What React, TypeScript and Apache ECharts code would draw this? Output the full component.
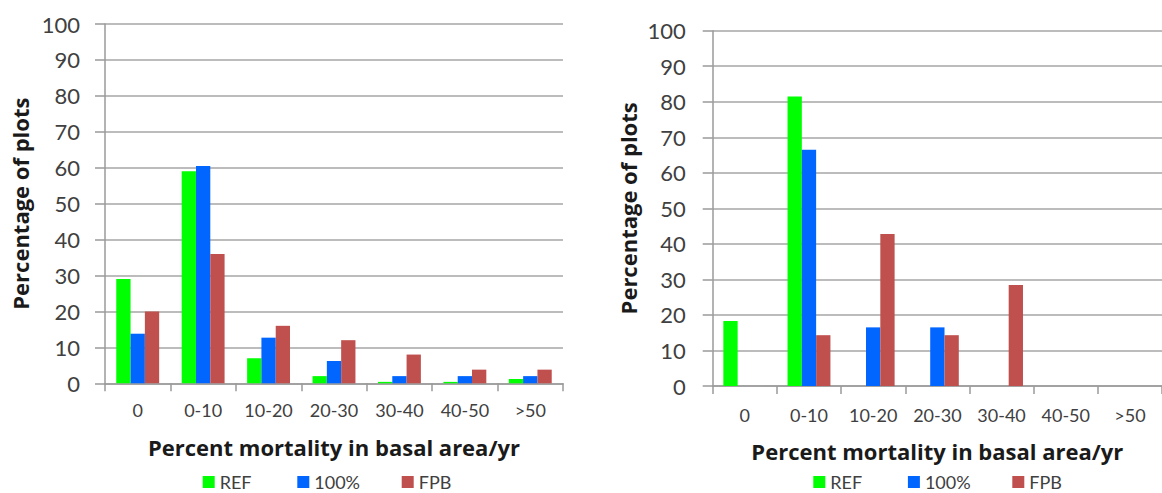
import React, { useEffect, useRef } from "react";
import * as echarts from "echarts";

const categories = ["0", "0-10", "10-20", "20-30", "30-40", "40-50", ">50"];
const seriesNames = ["REF", "100%", "FPB"];
const leftREF = [29, 59, 7, 2, 0.4, 0.4, 1.2];
const left100 = [13.8, 60.5, 12.7, 6.2, 2, 2, 2];
const leftFPB = [20, 36, 16, 12, 8, 3.8, 3.8];
const rightREF = [18.3, 81.5, 0, 0, 0, 0, 0];
const right100 = [0, 66.5, 16.5, 16.5, 0, 0, 0];
const rightFPB = [0, 14.3, 42.8, 14.3, 28.4, 0, 0];
const yTicks = { min: 0, max: 100, interval: 10 };
const xTitle = "Percent mortality in basal area/yr";
const yTitle = "Percentage of plots";
const colors = ["#00ff00", "#0066ff", "#c0504d"];

const FONT = "Lato";
const TITLE_FONT = "Open Sans";

export default function App() {
  const ref = useRef<HTMLDivElement>(null);
  useEffect(() => {
    if (!ref.current) return;
    const chart = echarts.init(ref.current, undefined, { renderer: "svg" });
    const grids = [
      { left: 105, top: 24, width: 458, height: 359.3 },
      { left: 712.7, top: 30.7, width: 460.6, height: 355.3 },
    ];
    const xAxes = grids.map((_, i) => ({
      type: "category",
      gridIndex: i,
      data: categories,
      axisLine: { lineStyle: { color: "#9a9a9a", width: 1.5 } },
      axisTick: { show: true, length: 8, lineStyle: { color: "#9a9a9a", width: 1.5 } },
      axisLabel: { color: "#404040", fontSize: 18, fontFamily: FONT, margin: i === 0 ? 18 : 20 },
      name: xTitle,
      nameLocation: "middle",
      nameGap: i === 0 ? 53 : 54,
      nameTextStyle: { color: "#1a1a1a", fontSize: 22, fontWeight: "bold", fontFamily: TITLE_FONT },
    }));
    const yAxes = grids.map((_, i) => ({
      type: "value",
      gridIndex: i,
      min: yTicks.min,
      max: yTicks.max,
      interval: yTicks.interval,
      axisLine: { show: true, lineStyle: { color: "#9a9a9a", width: 1.5 } },
      axisTick: { show: true, length: 10, lineStyle: { color: "#9a9a9a", width: 1.5 } },
      splitLine: { lineStyle: { color: "#a6a6a6", width: 1.5 } },
      axisLabel: { color: "#404040", fontSize: 22, fontFamily: FONT, margin: i === 0 ? 25 : 27 },
      name: yTitle,
      nameLocation: "middle",
      nameRotate: 90,
      nameGap: 74,
      nameTextStyle: { color: "#1a1a1a", fontSize: 22, fontWeight: "bold", fontFamily: TITLE_FONT },
    }));
    const leftData = [leftREF, left100, leftFPB];
    const rightData = [rightREF, right100, rightFPB];
    const series: any[] = [];
    [leftData, rightData].forEach((set, gi) => {
      set.forEach((vals, si) => {
        series.push({
          type: "bar",
          name: seriesNames[si],
          xAxisIndex: gi,
          yAxisIndex: gi,
          data: vals,
          barWidth: 14.3,
          barGap: "0%",
          itemStyle: { color: colors[si] },
        });
      });
    });
    const legendLefts = [202.7, 297.3, 401.7];
    const legendOffsets = [0, 610.6];
    const legends: any[] = [];
    legendOffsets.forEach((off) => {
      seriesNames.forEach((name, k) => {
        legends.push({
          data: [name],
          left: legendLefts[k] + off,
          top: 473,
          padding: 0,
          itemWidth: 12,
          itemHeight: 12,
          icon: "rect",
          textStyle: { color: "#404040", fontSize: 18, lineHeight: 16, fontFamily: FONT },
        });
      });
    });
    chart.setOption({
      animation: false,
      textStyle: { fontFamily: FONT },
      grid: grids,
      xAxis: xAxes,
      yAxis: yAxes,
      series,
      legend: legends,
    });
    return () => chart.dispose();
  }, []);
  return (
    <div
      style={{ position: "absolute", left: 0, top: 0, width: 1162, height: 493, overflow: "hidden", background: "#fff" }}
    >
      <div ref={ref} style={{ width: 1162, height: 493 }} />
    </div>
  );
}
